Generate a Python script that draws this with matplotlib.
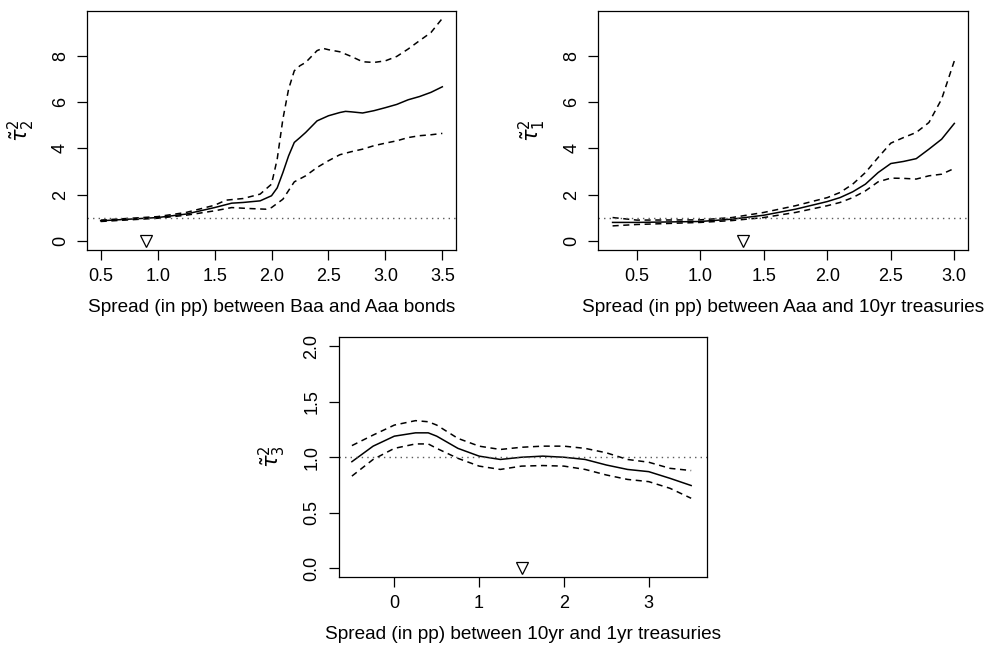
import numpy as np
import matplotlib
matplotlib.use("Agg")
import matplotlib.pyplot as plt

plt.rcParams['font.family'] = ['Liberation Sans', 'DejaVu Sans']
plt.rcParams['mathtext.fontset'] = 'dejavusans'

# panel 1: Baa - Aaa spread
x1_mean = [0.5, 1.0, 1.25, 1.5, 1.65, 1.75, 1.9, 2.0, 2.05, 2.1, 2.15, 2.2, 2.25, 2.3, 2.4, 2.5, 2.6, 2.65, 2.7, 2.8, 2.9, 3.0, 3.1, 3.2, 3.3, 3.4, 3.5]
y1_mean = [0.88, 1.02, 1.17, 1.45, 1.64, 1.67, 1.74, 1.96, 2.3, 2.96, 3.68, 4.26, 4.47, 4.69, 5.19, 5.41, 5.55, 5.6, 5.58, 5.53, 5.63, 5.76, 5.9, 6.1, 6.24, 6.42, 6.66]
x1_up = [0.5, 1.0, 1.25, 1.5, 1.6, 1.75, 1.9, 2.0, 2.05, 2.1, 2.15, 2.2, 2.25, 2.3, 2.4, 2.45, 2.5, 2.6, 2.7, 2.8, 2.9, 3.0, 3.1, 3.2, 3.3, 3.4, 3.5]
y1_up = [0.91, 1.06, 1.24, 1.55, 1.77, 1.84, 2.03, 2.46, 3.54, 5.27, 6.56, 7.35, 7.57, 7.71, 8.22, 8.32, 8.26, 8.17, 7.97, 7.74, 7.71, 7.78, 7.97, 8.29, 8.65, 9.0, 9.61]
x1_lo = [0.5, 1.0, 1.25, 1.5, 1.65, 1.8, 1.95, 2.0, 2.1, 2.2, 2.3, 2.4, 2.5, 2.6, 2.7, 2.8, 2.9, 3.0, 3.1, 3.2, 3.3, 3.4, 3.5]
y1_lo = [0.85, 0.99, 1.12, 1.31, 1.45, 1.41, 1.38, 1.45, 1.81, 2.56, 2.82, 3.18, 3.47, 3.73, 3.86, 3.97, 4.12, 4.23, 4.33, 4.47, 4.55, 4.59, 4.65]
mark1 = 0.9

# panel 2: Aaa - 10yr treasuries spread
x2 = [0.31, 0.5, 1.0, 1.25, 1.5, 1.75, 2.0, 2.1, 2.2, 2.3, 2.4, 2.5, 2.6, 2.7, 2.8, 2.9, 3.0]
y2_mean = [0.81, 0.81, 0.85, 0.95, 1.12, 1.38, 1.71, 1.88, 2.13, 2.46, 2.96, 3.35, 3.44, 3.56, 3.97, 4.4, 5.08]
y2_up = [1.02, 0.91, 0.92, 1.02, 1.24, 1.53, 1.88, 2.1, 2.46, 2.96, 3.61, 4.23, 4.47, 4.69, 5.12, 6.13, 7.78]
y2_lo = [0.66, 0.72, 0.81, 0.89, 1.02, 1.24, 1.53, 1.67, 1.88, 2.17, 2.56, 2.72, 2.71, 2.68, 2.82, 2.89, 3.14]
mark2 = 1.334

# panel 3: 10yr - 1yr treasuries spread
x3 = [-0.5, -0.25, 0.0, 0.25, 0.4, 0.5, 0.75, 1.0, 1.25, 1.5, 1.75, 2.0, 2.25, 2.5, 2.75, 3.0, 3.25, 3.5]
y3_mean = [0.96, 1.10, 1.19, 1.22, 1.22, 1.19, 1.08, 1.01, 0.98, 1.0, 1.01, 1.0, 0.98, 0.93, 0.89, 0.87, 0.81, 0.745]
y3_up = [1.105, 1.2, 1.29, 1.33, 1.32, 1.29, 1.17, 1.10, 1.07, 1.09, 1.10, 1.10, 1.08, 1.04, 0.98, 0.955, 0.90, 0.88]
y3_lo = [0.83, 0.98, 1.08, 1.12, 1.12, 1.08, 0.99, 0.92, 0.89, 0.92, 0.925, 0.92, 0.89, 0.84, 0.80, 0.78, 0.72, 0.63]
mark3 = 1.5

fig = plt.figure(figsize=(9.9, 6.46), dpi=100)
ax1 = fig.add_axes([0.0879, 0.613, 0.3727, 0.370])
ax2 = fig.add_axes([0.6044, 0.613, 0.3737, 0.370])
ax3 = fig.add_axes([0.3421, 0.1068, 0.3723, 0.372])


def panel(ax, xm, ym, xu, yu, xl, yl, mark, xlab, ylab, xlim, ylim, xticks, yticks, xfmt, yfmt):
    ax.plot(xm, ym, color='black', lw=1.1)
    ax.plot(xu, yu, color='black', lw=1.1, ls=(0, (4, 3)))
    ax.plot(xl, yl, color='black', lw=1.1, ls=(0, (4, 3)))
    ax.axhline(1.0, color='0.35', lw=1.0, ls=(0, (1, 3)))
    ax.plot([mark], [0], marker='v', ms=8, mfc='white', mec='black', mew=0.9, ls='none')
    ax.set_xlim(*xlim)
    ax.set_ylim(*ylim)
    ax.set_xticks(xticks)
    ax.set_xticklabels([xfmt % v for v in xticks])
    ax.set_yticks(yticks)
    ax.set_yticklabels([yfmt % v for v in yticks], rotation=90, va='center')
    ax.tick_params(direction='out', length=7, width=0.9, labelsize=13, pad=6)
    for s in ax.spines.values():
        s.set_linewidth(0.9)
    ax.set_xlabel(xlab, fontsize=13.7, labelpad=10)
    ax.set_ylabel(ylab, fontsize=15, labelpad=11)


panel(ax1, x1_mean, y1_mean, x1_up, y1_up, x1_lo, y1_lo, mark1,
      'Spread (in pp) between Baa and Aaa bonds', r'$\tilde{\tau}^2_2$',
      (0.38, 3.62), (-0.38, 9.93), [0.5, 1.0, 1.5, 2.0, 2.5, 3.0, 3.5], [0, 2, 4, 6, 8], '%.1f', '%d')
panel(ax2, x2, y2_mean, x2, y2_up, x2, y2_lo, mark2,
      'Spread (in pp) between Aaa and 10yr treasuries', r'$\tilde{\tau}^2_1$',
      (0.198, 3.11), (-0.38, 9.93), [0.5, 1.0, 1.5, 2.0, 2.5, 3.0], [0, 2, 4, 6, 8], '%.1f', '%d')
panel(ax3, x3, y3_mean, x3, y3_up, x3, y3_lo, mark3,
      'Spread (in pp) between 10yr and 1yr treasuries', r'$\tilde{\tau}^2_3$',
      (-0.656, 3.69), (-0.08, 2.087), [0, 1, 2, 3], [0.0, 0.5, 1.0, 1.5, 2.0], '%d', '%.1f')

fig.savefig('out.png', dpi=100)
